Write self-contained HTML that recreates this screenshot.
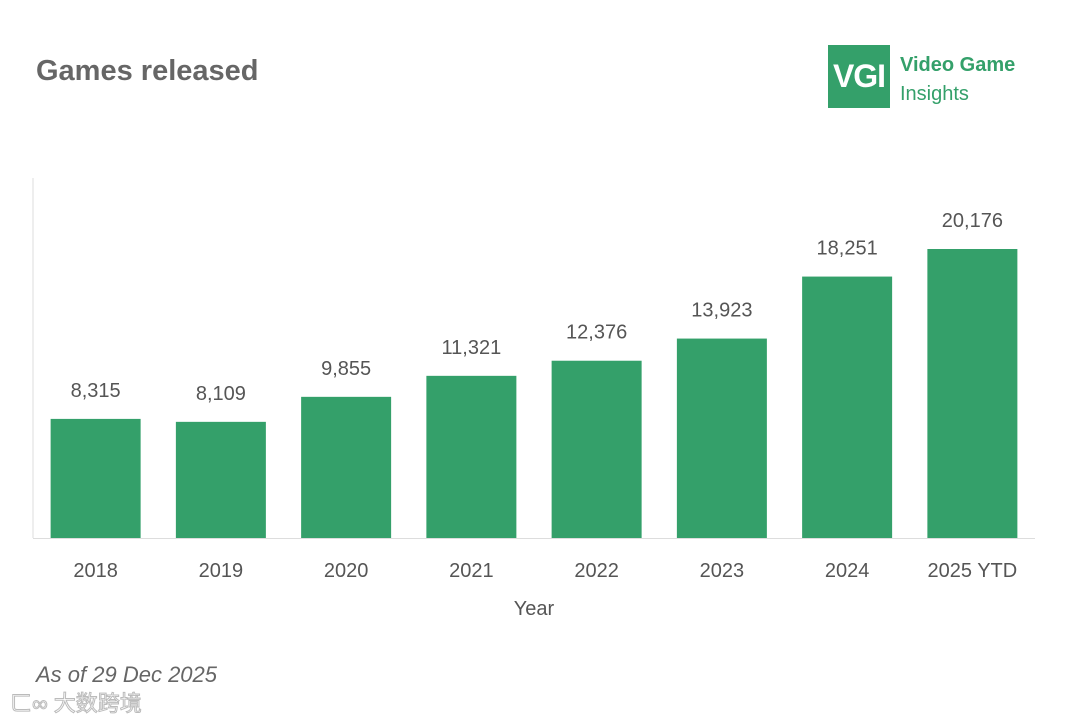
<!DOCTYPE html>
<html><head><meta charset="utf-8"><style>
body{margin:0;background:#fff;font-family:"Liberation Sans",sans-serif;}
#wrap{position:relative;width:1080px;height:720px;overflow:hidden;background:#fff;}
.t{position:absolute;}
</style></head><body>
<div id="wrap">
<div class="t" style="left:36px;top:55px;font-size:29px;font-weight:bold;color:#666;">Games released</div>
<div class="t" style="left:828px;top:45px;width:62px;height:63px;background:#34a06a;color:#fff;font-weight:bold;font-size:32px;line-height:63px;text-align:center;letter-spacing:-1px;">VGI</div>
<div class="t" style="left:900px;top:54px;font-size:20px;font-weight:bold;color:#34a06a;">Video Game</div>
<div class="t" style="left:900px;top:83px;font-size:20px;color:#34a06a;">Insights</div>
<div class="t" style="left:36px;top:662px;font-size:22px;font-style:italic;color:#666;">As of 29 Dec 2025</div>
<div class="t" style="left:10px;top:686px;font-size:22px;color:#fff;-webkit-text-stroke:1px #bbb;font-family:'Liberation Sans','Noto Sans CJK SC',sans-serif;">ㄈ∞ 大数跨境</div>
<svg id="chart" width="1080" height="720" style="position:absolute;left:0;top:0"></svg>
</div>
<script>
const categories=["2018","2019","2020","2021","2022","2023","2024","2025 YTD"];
const values=[8315,8109,9855,11321,12376,13923,18251,20176];
const valueLabels=["8,315","8,109","9,855","11,321","12,376","13,923","18,251","20,176"];
const svg=document.getElementById('chart');
const NS='http://www.w3.org/2000/svg';
const x0=33,x1=1035,base=538,scale=289/20176;
const band=(x1-x0)/categories.length;
const xs=i=>x0+band*i+band/2;
const ys=v=>base-v*scale;
function mk(tag,attrs){const e=document.createElementNS(NS,tag);for(const k in attrs)e.setAttribute(k,attrs[k]);svg.appendChild(e);return e;}
const ya=mk('line',{x1:x0,x2:x0,y1:178,y2:base,stroke:'#ddd','stroke-width':1});


const xa=mk('line',{x1:x0,x2:x1,y1:base+0.5,y2:base+0.5,stroke:'#ddd','stroke-width':1});


categories.forEach((c,i)=>{
 const w=90,cx=xs(i),y=ys(values[i]);
 const r=mk('rect',{x:cx-w/2,y:y,width:w,height:base-y,fill:'#34a06a'});
 
 
 const l=mk('text',{x:cx,y:y-22,'text-anchor':'middle','font-size':20,fill:'#555','font-family':'Liberation Sans, sans-serif'});
 l.textContent=valueLabels[i];
 
 
 const t=mk('text',{x:cx,y:577,'text-anchor':'middle','font-size':20,fill:'#555','font-family':'Liberation Sans, sans-serif'});
 t.textContent=c;
 
 
});
const xt=mk('text',{x:(x0+x1)/2,y:615,'text-anchor':'middle','font-size':20,fill:'#555','font-family':'Liberation Sans, sans-serif'});
xt.textContent='Year';


</script>
</body></html>
